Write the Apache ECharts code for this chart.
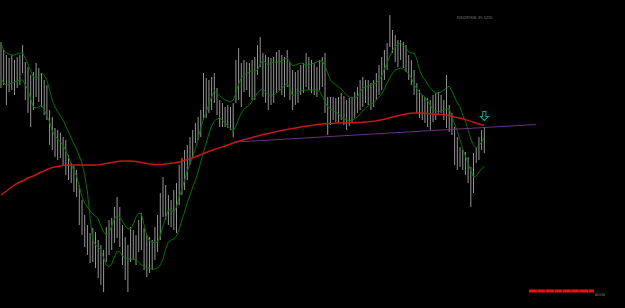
<!DOCTYPE html>
<html>
<head>
<meta charset="utf-8">
<script src="https://cdn.jsdelivr.net/npm/echarts@6/dist/echarts.min.js"></script>
<style>
html,body{margin:0;padding:0;background:#000;}
#chart{width:625px;height:308px;}
</style>
</head>
<body>
<div id="chart"></div>
<script>
// Bar highs / lows (price level, chart units; axis is inverted)
const barHigh = [42,50,55,58,55,60,57,55,45,62,67,75,72,63,68,73,80,85,110,117,128,130,133,137,140,155,163,166,170,185,200,215,225,233,228,232,240,245,250,227,220,218,207,197,207,225,237,245,227,230,235,220,213,228,235,237,240,227,215,193,177,185,195,200,190,183,165,158,150,145,137,130,123,117,110,73,78,80,77,73,88,100,103,107,105,107,103,60,48,63,60,62,63,60,57,45,37,53,55,57,58,57,52,50,55,57,50,62,70,72,70,65,63,53,57,60,63,67,60,57,53,97,97,97,98,97,93,96,100,98,97,92,87,80,77,80,80,83,80,73,65,57,50,43,15,30,35,40,40,42,45,55,60,70,83,90,95,97,98,100,95,93,92,95,100,75,105,113,127,137,147,150,152,157,167,153,147,137,130,127];
const barLow = [88,85,105,92,90,95,88,85,73,100,113,127,110,97,102,107,115,120,145,150,157,160,158,165,175,180,183,192,197,225,235,247,255,263,262,268,278,285,292,262,255,250,243,238,247,265,280,292,262,260,265,252,250,270,277,273,270,260,252,240,217,220,225,227,230,233,205,195,190,180,165,158,143,140,137,120,118,113,110,103,115,127,127,127,128,130,137,103,100,107,92,90,97,100,100,75,67,97,103,110,105,103,93,90,95,97,87,100,110,105,103,95,93,87,90,93,95,97,90,87,113,135,125,120,122,123,120,125,130,126,123,118,113,110,107,103,105,110,107,100,95,90,80,70,47,53,62,67,60,68,72,80,85,95,113,118,120,123,127,130,122,120,115,113,120,128,132,135,165,170,167,170,175,183,207,193,163,160,150,153];
// Green line 1 (shifted moving average)
const maGreen1 = [43,50,53,54,55,55,54,53,53,58,64,71,77,78,76,73,75,80,90,100,107,112,116,120,126,132,138,144,149,156,163,175,192,218,240,245,247,250,258,265,267,264,257,251,252,256,258,259,259,259,260,262,265,266,268,268,269,269,268,265,259,249,242,240,239,236,229,220,212,203,195,187,180,172,162,152,143,134,126,121,119,118,120,123,126,129,131,126,119,113,109,107,105,101,97,93,90,89,92,95,95,95,93,91,88,86,83,89,96,94,92,91,90,90,90,90,90,90,91,96,102,107,109,111,112,114,117,119,120,121,120,119,117,114,111,108,106,104,103,100,97,94,89,83,78,73,70,69,68,69,71,74,78,84,89,92,95,97,101,105,110,111,112,111,110,109,109,117,124,131,140,149,156,163,171,177,176,172,169,166];
// Green line 2 (moving average)
const maGreen2 = [78,83,85,84,83,82,81,80,80,85,90,99,107,108,107,105,110,116,122,131,136,139,142,145,151,157,164,171,176,186,197,203,207,211,214,216,219,226,232,235,233,226,219,215,217,221,226,229,229,224,217,213,214,225,235,241,242,243,242,236,226,217,210,210,212,207,197,189,180,171,164,157,149,138,128,119,112,104,97,91,93,96,98,100,101,102,100,93,84,78,75,73,72,71,71,70,64,60,63,65,63,62,62,62,61,59,58,62,66,65,64,63,64,65,65,64,63,62,61,61,66,73,80,83,85,87,89,92,95,97,98,98,97,92,88,87,86,85,84,83,80,76,69,63,56,50,47,44,43,45,48,52,53,53,59,70,76,80,84,88,91,93,93,92,90,88,86,91,97,103,107,115,121,130,139,145,148,146,142,137];
// Red long moving average
const maRed = [195,193,191,189,187,185,183.5,182,181,179.5,178,177,176,174.5,173,172,171,169.5,168.5,167.5,167,166.5,166,165.5,165.3,165,165,165,165,165,165,165,165,165,164.9,164.9,164.8,164.5,164,163.5,163,162.5,162,161.5,161.2,161,161,161,161,161.2,161.5,162,162.5,163,163.5,164,164.3,164.5,164.5,164.5,164.3,164,163.7,163.3,163,162.5,162,161.2,160.4,159.6,158.7,157.7,156.8,155.7,154.7,153.5,152.5,151.5,150.5,149.5,148.6,147.8,146.9,146,145,144,143,142,141.2,140.5,139.7,139,138.2,137.5,136.7,136,135.2,134.6,134,133.4,132.8,132.2,131.6,131,130.5,130,129.5,129,128.5,128,127.5,127,126.6,126.2,125.8,125.4,125,124.6,124.2,124,123.8,123.6,123.4,123.2,123.1,123,123,123,122.9,122.8,122.7,122.6,122.5,122.4,122.2,122,121.8,121.5,121.2,120.8,120.3,119.8,119.2,118.5,117.8,117.1,116.4,115.7,115,114.5,114,113.6,113.3,113.1,113,113,113.1,113.3,113.5,113.7,114,114.2,114.4,114.6,114.8,115,115.5,116.3,117,117.6,118.2,118.8,119.6,120.4,121.4,122.3,123.2,124,124.8,125.5];
// Trend line anchors [bar index, level]
const trendStart = [87, 142];
const trendEnd = [198, 124.5];
// Arrow signal [bar index, level]
const arrowSignal = [[179, 116]];
const infoText = 'RSI2/RSI8: 39.5255';
const cornerText = '00:00';

const chart = echarts.init(document.getElementById('chart'), null, {renderer: 'canvas'});
const pairs = arr => arr.map((v, i) => [i, v]);

const option = {
  backgroundColor: '#000000',
  animation: false,
  grid: {left: 0, right: 0, top: 0, bottom: 0, containLabel: false},
  xAxis: {type: 'value', min: -0.37, max: 231.1, show: false},
  yAxis: {type: 'value', min: 0, max: 308, inverse: true, show: false},
  series: [
    {
      type: 'custom',
      data: barHigh.map((h, i) => [i, h, barLow[i]]),
      renderItem: function (params, api) {
        const x = api.value(0);
        const p1 = api.coord([x, api.value(1)]);
        const p2 = api.coord([x, api.value(2)]);
        return {
          type: 'line',
          shape: {x1: p1[0], y1: p1[1], x2: p2[0], y2: p2[1]},
          style: {stroke: '#959595', lineWidth: 1}
        };
      },
      z: 1
    },
    {type: 'line', data: pairs(maGreen1), showSymbol: false,
     lineStyle: {color: '#007400', width: 1}, z: 2},
    {type: 'line', data: pairs(maGreen2), showSymbol: false,
     lineStyle: {color: '#007400', width: 1}, z: 2},
    {type: 'line', data: pairs(maRed), showSymbol: false,
     lineStyle: {color: '#c41818', width: 1.5}, z: 3},
    {type: 'line', data: [trendStart, trendEnd], showSymbol: false,
     lineStyle: {color: '#6c2f86', width: 1}, z: 4},
    {type: 'scatter', data: arrowSignal,
     symbol: 'path://M3,0 L7,0 L7,6 L10,6 L5,11 L0,6 L3,6 Z',
     symbolSize: [8, 9],
     itemStyle: {color: 'rgba(0,0,0,0)', borderColor: '#22c8c8', borderWidth: 1}, z: 5}
  ],
  graphic: [
    {type: 'text', left: 457, top: 16,
     style: {text: infoText, fill: '#747474', font: '4px "Liberation Sans"'}},
    {type: 'line', shape: {x1: 529, y1: 291, x2: 594, y2: 291},
     style: {stroke: '#e81212', lineWidth: 3, lineDash: [8, 0.5]}},
    {type: 'text', left: 595, top: 293,
     style: {text: cornerText, fill: '#8a8a8a', font: '4px "Liberation Sans"'}}
  ]
};
chart.setOption(option);
</script>
</body>
</html>
